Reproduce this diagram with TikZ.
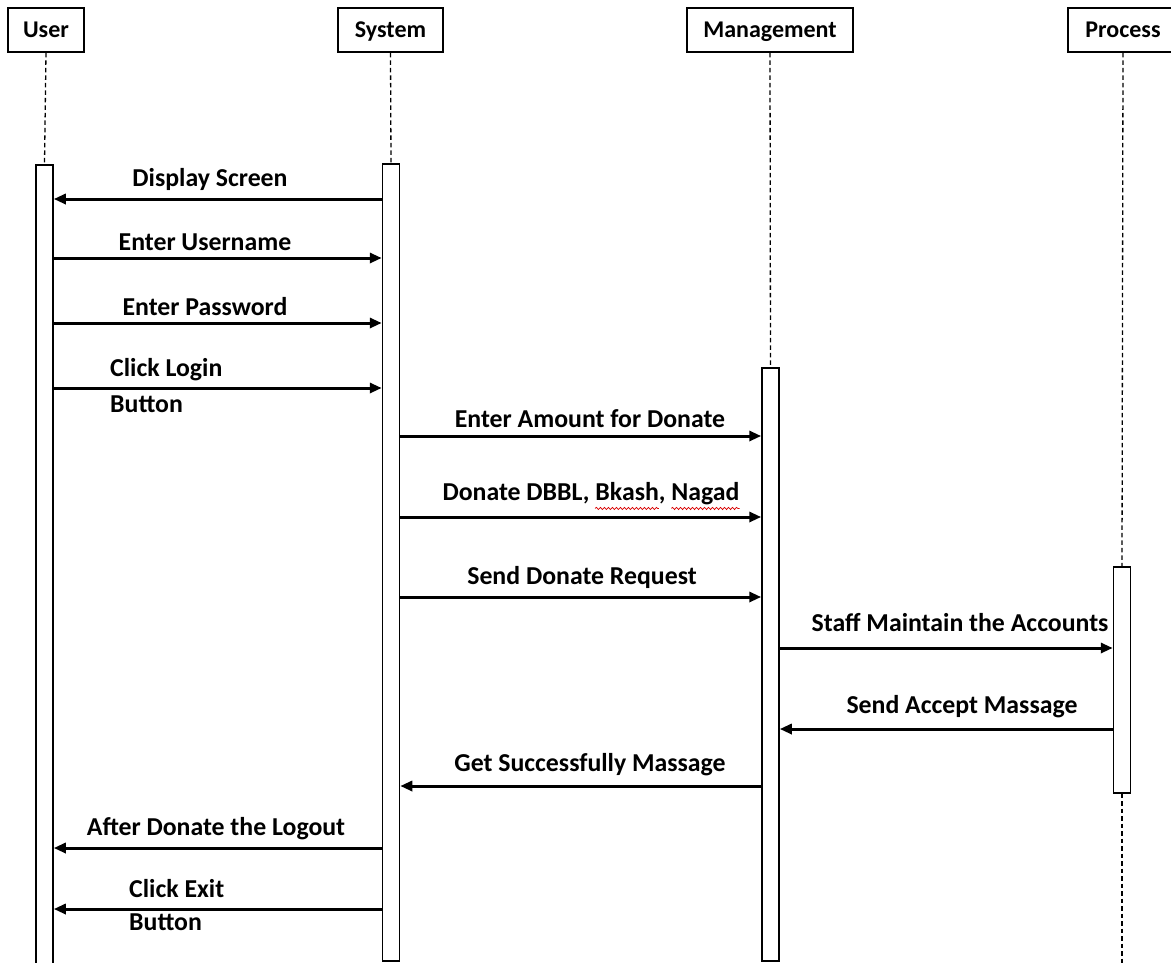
\documentclass[tikz,border=0pt]{standalone}
\usepackage{fontspec}
\setmainfont{Carlito}
\usetikzlibrary{arrows.meta,decorations.pathmorphing,calc}

\begin{document}
\begin{tikzpicture}[x=1pt,y=-1pt,
  lbl/.style={font=\bfseries\fontsize{25.8}{29}\selectfont, inner sep=0pt},
  head/.style={font=\bfseries\fontsize{24}{27}\selectfont, inner sep=0pt,
    text height=16pt, text depth=2pt,
    draw, line width=1.6pt, minimum height=44pt, fill=white},
  act/.style={draw, line width=1.5pt, fill=white, minimum width=17pt, anchor=north, inner sep=0pt},
  life/.style={line width=1.3pt, dash pattern=on 4.5pt off 3pt},
  msg/.style={line width=3pt, -{Triangle[length=12pt, width=10pt]}},
  squig/.style={red!85!black, line width=0.7pt, decorate,
    decoration={snake, amplitude=1.1pt, segment length=4pt}}]

\clip (0,0) rectangle (1171,962);
\fill[white] (0,0) rectangle (1171,962);

% participants
\node[head, minimum width=76pt]  (user) at (46,30)    {User};
\node[head, minimum width=105pt] (sys)  at (390.5,30) {System};
\node[head, minimum width=166pt] (mgmt) at (770,30)   {Management};
\node[head, minimum width=110pt] (proc) at (1123,30)  {Process};

% activation bars
\node[act, minimum height=810pt] (useract) at (44.5,164) {};
\node[act, minimum height=797pt] (sysact)  at (391,163)  {};
\node[act, minimum height=593pt] (mgmtact) at (770.5,367) {};
\node[act, minimum height=226pt] (procact) at (1122,566) {};
\coordinate (procend) at (1122,970);

% lifelines
\draw[life] (user.south) -- (useract.north);
\draw[life] (sys.south)  -- (sysact.north);
\draw[life] (mgmt.south) -- (mgmtact.north);
\draw[life] (proc.south) -- (procact.north);
\draw[life] (procact.south) -- (procend);

% messages
\draw[msg] (sysact.west |- 0,199) -- (useract.east |- 0,199);
\node[lbl] (m1) at (210,179) {Display Screen};

\draw[msg] (useract.east |- 0,258) -- (sysact.west |- 0,258);
\node[lbl] (m2) at (205,242) {Enter Username};

\draw[msg] (useract.east |- 0,323) -- (sysact.west |- 0,323);
\node[lbl] (m3) at (205,307) {Enter Password};

\draw[msg] (useract.east |- 0,388) -- (sysact.west |- 0,388);
\node[lbl, anchor=west] (m4a) at (110,370) {Click Login};
\node[lbl, anchor=west] (m4b) at (110,404) {Button};

\draw[msg] (sysact.east |- 0,436) -- (mgmtact.west |- 0,436);
\node[lbl] (m5) at (590,419) {Enter Amount for Donate};

\draw[msg] (sysact.east |- 0,517) -- (mgmtact.west |- 0,517);
\node[lbl] (m6) at (591,494) {Donate DBBL, Bkash, Nagad};
% spell-check marks under two of the words
\draw[squig] ($(m6.south west)!0.514!(m6.south east)+(0,3)$) -- ($(m6.south west)!0.728!(m6.south east)+(0,3)$);
\draw[squig] ($(m6.south west)!0.770!(m6.south east)+(0,3)$) -- ($(m6.south west)!1.0!(m6.south east)+(0,3)$);

\draw[msg] (sysact.east |- 0,597) -- (mgmtact.west |- 0,597);
\node[lbl] (m7) at (582,577) {Send Donate Request};

\draw[msg] (mgmtact.east |- 0,648) -- (procact.west |- 0,648);
\node[lbl] (m8) at (960,623) {Staff Maintain the Accounts};

\draw[msg] (procact.west |- 0,729) -- (mgmtact.east |- 0,729);
\node[lbl] (m9) at (962,707) {Send Accept Massage};

\draw[msg] (mgmtact.west |- 0,786) -- (sysact.east |- 0,786);
\node[lbl] (m10) at (590,765) {Get Successfully Massage};

\draw[msg] (sysact.west |- 0,848) -- (useract.east |- 0,848);
\node[lbl] (m11) at (216,829) {After Donate the Logout};

\draw[msg] (sysact.west |- 0,909) -- (useract.east |- 0,909);
\node[lbl, anchor=west] (m12a) at (129,889) {Click Exit};
\node[lbl, anchor=west] (m12b) at (129,922) {Button};

\end{tikzpicture}
\end{document}
